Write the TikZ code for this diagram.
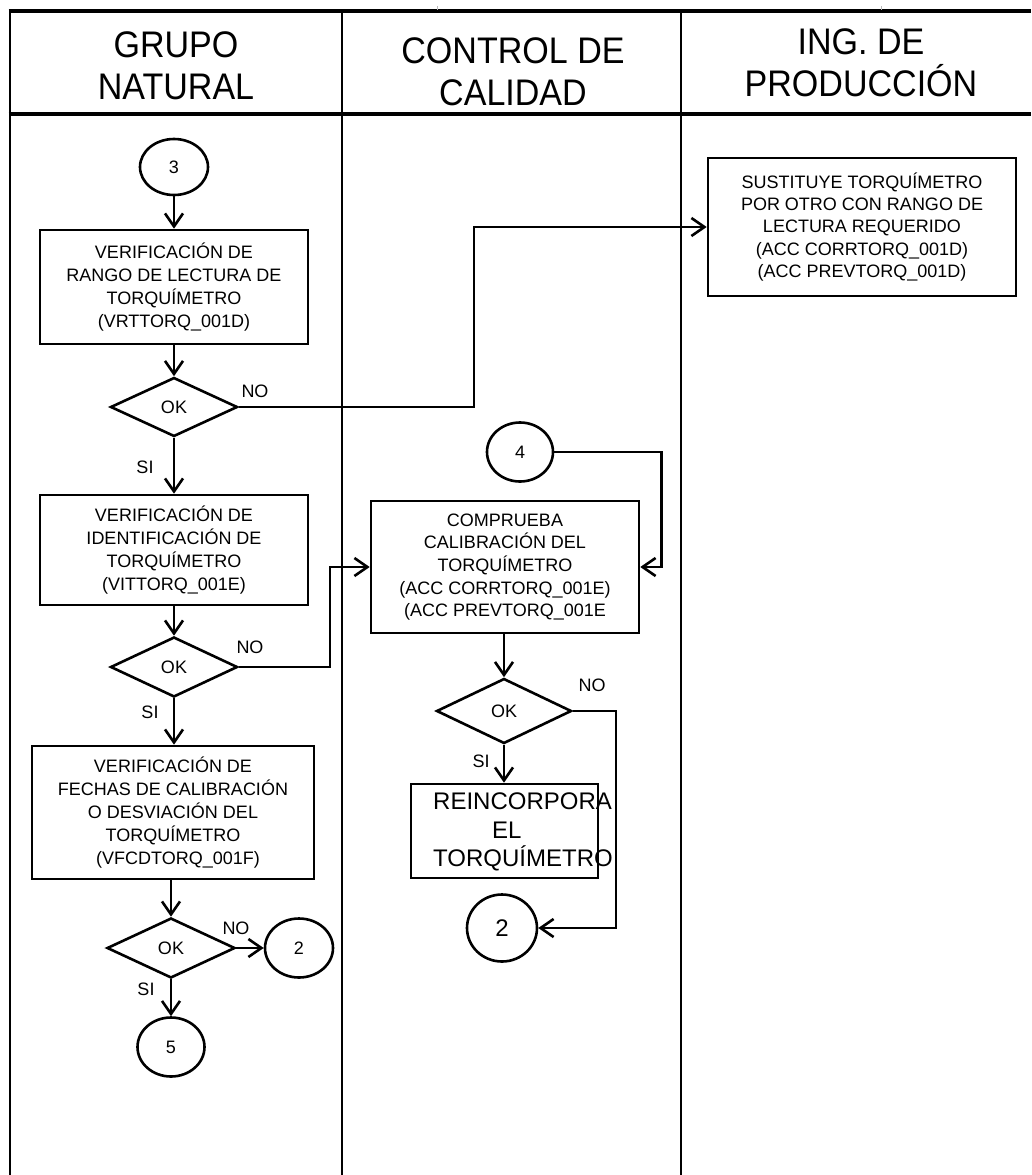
\documentclass[tikz,border=0pt]{standalone}
\usepackage{fontspec}
\setmainfont{Liberation Sans}
\newfontfamily\headfont[FakeStretch=0.92]{Liberation Sans}
\usetikzlibrary{shapes.geometric,arrows.meta,calc}
\begin{document}
\begin{tikzpicture}[x=1pt,y=-1pt,
  rule/.style={line width=3.4pt},
  lane/.style={line width=2.8pt},
  box/.style={draw, rectangle, line width=2.6pt, inner sep=0pt, align=center,
    font=\fontsize{18}{23}\selectfont},
  dec/.style={draw, diamond, line width=2.6pt, inner sep=0pt,
    font=\fontsize{18}{22}\selectfont},
  conn/.style={draw, ellipse, line width=2.6pt, inner sep=0pt,
    font=\fontsize{18}{22}\selectfont},
  lbl/.style={inner sep=0pt, font=\fontsize{18}{22}\selectfont},
  head/.style={inner sep=0pt, align=center, font=\headfont\fontsize{37}{42}\selectfont},
  arr/.style={line width=2.6pt, -{Straight Barb[length=13pt,width=18pt]}}]

\useasboundingbox (0,0) rectangle (1031,1175);

% swimlane frame
\draw[rule] (8.6,11) -- (1031,11);
\draw[rule] (8.6,114) -- (1031,114);
\draw[lane] (10,11) -- (10,1175);
\draw[lane] (342,9) -- (342,1175);
\draw[lane] (681,9) -- (681,1175);
\draw[gray!55, line width=1pt] (437,6) -- (437,10);
\draw[gray!55, line width=1pt] (881,6) -- (881,10);

% lane titles
\node[head] (h1) at (176,66) {GRUPO\\NATURAL};
\node[head] (h2) at (513,72) {CONTROL DE\\CALIDAD};
\node[head] (h3) at (861,63) {ING. DE\\PRODUCCIÓN};

% lane 1: grupo natural
\node[conn, minimum width=68pt, minimum height=56pt] (c3) at (174,167) {3};
\node[box, minimum width=268pt, minimum height=114pt] (b1) at (174,287)
  {VERIFICACIÓN DE\\RANGO DE LECTURA DE\\TORQUÍMETRO\\(VRTTORQ\_001D)};
\node[dec, minimum width=127pt, minimum height=59pt] (d1) at (174,407) {OK};
\node[box, minimum width=268pt, minimum height=110pt] (b2) at (174,550)
  {VERIFICACIÓN DE\\IDENTIFICACIÓN DE\\TORQUÍMETRO\\(VITTORQ\_001E)};
\node[dec, minimum width=127pt, minimum height=60pt] (d2) at (174,667) {OK};
\node[box, minimum width=282pt, minimum height=133pt] (b3) at (173,812.5)
  {VERIFICACIÓN DE\\FECHAS DE CALIBRACIÓN\\O DESVIACIÓN DEL\\TORQUÍMETRO\\\hspace*{10pt}(VFCDTORQ\_001F)};
\node[dec, minimum width=128pt, minimum height=60pt] (d3) at (171,948) {OK};
\node[conn, minimum width=68pt, minimum height=59pt] (c2a) at (299,948) {2};
\node[conn, minimum width=67pt, minimum height=59pt] (c5) at (171,1047) {5};

% lane 3: ingenieria de produccion
\node[box, minimum width=308pt, minimum height=138pt,
  font=\fontsize{18}{22.3}\selectfont] (b4) at (862,227)
  {SUSTITUYE TORQUÍMETRO\\POR OTRO CON RANGO DE\\LECTURA REQUERIDO\\(ACC CORRTORQ\_001D)\\(ACC PREVTORQ\_001D)};

% lane 2: control de calidad
\node[conn, minimum width=66pt, minimum height=59pt] (c4) at (520,452) {4};
\node[box, minimum width=268pt, minimum height=132pt,
  font=\fontsize{18}{22.7}\selectfont] (b5) at (505,567)
  {COMPRUEBA\\CALIBRACIÓN DEL\\TORQUÍMETRO\\(ACC CORRTORQ\_001E)\\(ACC PREVTORQ\_001E};
\node[dec, minimum width=135pt, minimum height=65pt] (d4) at (504,711) {OK};
\node[draw, rectangle, line width=2.6pt, inner sep=0pt,
  minimum width=187pt, minimum height=94pt] (b6) at (504.5,831) {};
\node[inner sep=0pt, align=left, font=\fontsize{24}{28.5}\selectfont] (b6t) at (523,832)
  {REINCORPORA\\\hspace*{59pt}EL\\TORQUÍMETRO};
\node[conn, minimum width=70pt, minimum height=67pt,
  font=\fontsize{24}{28}\selectfont] (c2b) at (502,928) {2};

% flow connectors
\draw[arr] (c3.south) -- (b1.north);
\draw[arr] (b1.south) -- (d1.north);
\draw[arr] (d1.south) -- (b2.north);
\draw[arr] (d1.east) -- ++(235,0) |- (b4.west);
\draw[arr] (b2.south) -- (d2.north);
\draw[arr] (d2.east) -- ++(91,0) |- (b5.west);
\draw[arr] (d2.south) -- (b3.north -| d2.south);
\draw[arr] (d3.north |- b3.south) -- (d3.north);
\draw[arr] (d3.east) -- (c2a.west);
\draw[arr] (d3.south) -- (c5.north);
\draw[arr] (c4.east) -- ++(107,0) |- (b5.east);
\draw[arr] (d4.north |- b5.south) -- (d4.north);
\draw[arr] (d4.south) -- (b6.north -| d4.south);
\draw[arr] (d4.east) -- ++(43,0) |- (c2b.east);

% branch labels
\node[lbl] (no1) at (255,391) {NO};
\node[lbl] (si1) at (145,467) {SI};
\node[lbl] (no2) at (250,647) {NO};
\node[lbl] (si2) at (150,712) {SI};
\node[lbl] (no3) at (236,928) {NO};
\node[lbl] (si3) at (146,989) {SI};
\node[lbl] (no4) at (592,685) {NO};
\node[lbl] (si4) at (481,761) {SI};
\end{tikzpicture}
\end{document}
